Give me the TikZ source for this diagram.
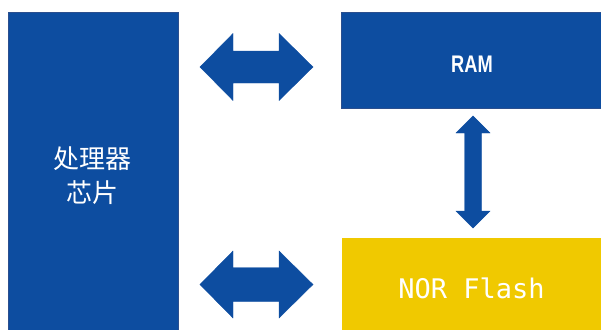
\documentclass[tikz,border=0pt]{standalone}
\usepackage{fontspec}
\newfontfamily\cjkfont{Noto Sans CJK SC}
\newfontfamily\labelfont{Liberation Sans}
\newfontfamily\monofont{DejaVu Sans Mono}
\definecolor{chipblue}{HTML}{0D4DA0}
\definecolor{chipedge}{HTML}{2B4F8E}
\definecolor{flashyellow}{HTML}{F0C900}
\begin{document}
\begin{tikzpicture}[x=1pt,y=-1pt,
  block/.style={draw=chipedge,line width=0.8pt,inner sep=0pt,text=white,anchor=north west},
  bluebox/.style={block,fill=chipblue},
  yellowbox/.style={block,draw=flashyellow,fill=flashyellow},
  blockarrow/.style={fill=chipblue,draw=chipblue,line width=0.4pt,line join=miter}]
  \useasboundingbox (0,0) rectangle (601,329);

  % processor chip
  \node[bluebox,minimum width=170pt,minimum height=318pt] (cpu) at (7.5,12) {};
  \node[text=white,font=\cjkfont\fontsize{26}{34}\selectfont,align=center] (cpulabel)
    at (92,176) {处理器\\芯片};

  % RAM
  \node[bluebox,minimum width=262pt,minimum height=96pt] (ram) at (341,12) {};
  \node[text=white,font=\labelfont\bfseries\fontsize{24}{28}\selectfont,xscale=0.76] (ramlabel)
    at (472,64) {RAM};

  % NOR Flash
  \node[yellowbox,minimum width=262pt,minimum height=93pt] (nor) at (342,238) {};
  \node[text=white,font=\monofont\fontsize{27}{30}\selectfont] (norlabel)
    at (471.5,288) {NOR Flash};

  % cpu <-> RAM
  \fill[blockarrow] (200,67) -- (233,33.5) -- (233,51) -- (279,51) -- (279,33.5) -- (313,67)
    -- (279,100.5) -- (279,83) -- (233,83) -- (233,100.5) -- cycle;
  % cpu <-> NOR Flash
  \fill[blockarrow] (200,284.5) -- (233,251) -- (233,267.5) -- (279,267.5) -- (279,251) -- (313,284.5)
    -- (279,318) -- (279,301.5) -- (233,301.5) -- (233,318) -- cycle;
  % RAM <-> NOR Flash
  \fill[blockarrow] (473,116) -- (490,133) -- (481.5,133) -- (481.5,211) -- (490,211) -- (473,228)
    -- (456,211) -- (464.5,211) -- (464.5,133) -- (456,133) -- cycle;
\end{tikzpicture}
\end{document}
